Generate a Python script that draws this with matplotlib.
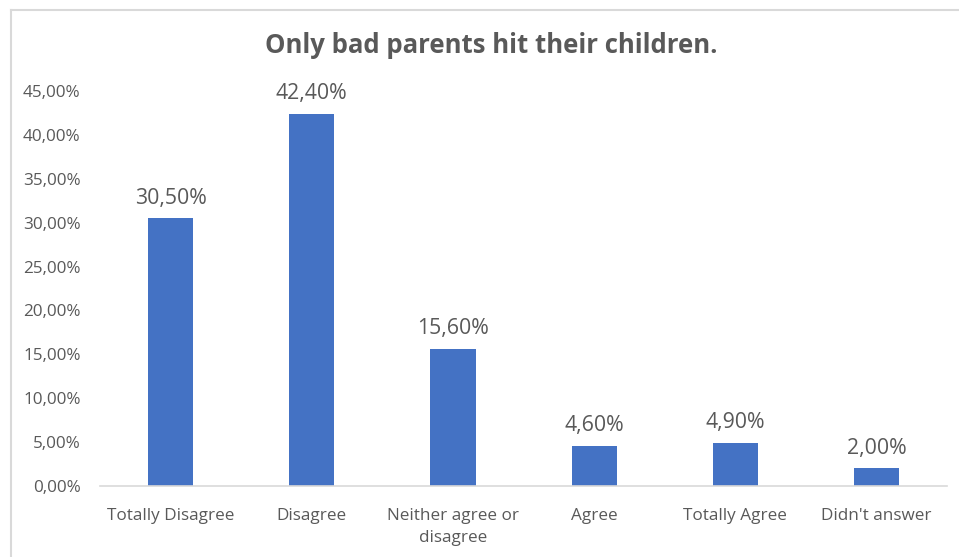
import matplotlib.pyplot as plt
from matplotlib.ticker import FuncFormatter

# values
categories = ['Totally Disagree', 'Disagree', 'Neither agree or\ndisagree',
              'Agree', 'Totally Agree', "Didn't answer"]
percents = [30.5, 42.4, 15.6, 4.6, 4.9, 2.0]
yticks = [0, 5, 10, 15, 20, 25, 30, 35, 40, 45]

text_col = '#595959'
bar_col = '#4472C4'

plt.rcParams['font.family'] = ['Open Sans', 'DejaVu Sans']

fig = plt.figure(figsize=(9.59, 5.57), dpi=100)
ax = fig.add_axes([0.1043, 0.1275, 0.8832, 0.7091])

x = range(len(categories))
ax.bar(x, percents, width=0.32, color=bar_col)

# data labels
for xi, v in zip(x, percents):
    ax.annotate(f'{v:.2f}%'.replace('.', ','), (xi, v), xytext=(0, 7),
                textcoords='offset points', ha='center', va='bottom',
                fontsize=15.3, color=text_col)

ax.set_xlim(-0.5, len(categories) - 0.5)
ax.set_ylim(0, 45)
ax.set_yticks(yticks)
ax.yaxis.set_major_formatter(FuncFormatter(lambda v, p: f'{v:.2f}%'.replace('.', ',')))
ax.set_xticks(list(x))
ax.set_xticklabels(categories, linespacing=1.45)

for s in ['top', 'right', 'left']:
    ax.spines[s].set_visible(False)
ax.spines['bottom'].set_color('#D9D9D9')
ax.spines['bottom'].set_linewidth(1.2)
ax.tick_params(axis='both', length=0, labelsize=12.3, colors=text_col)
ax.tick_params(axis='x', pad=16)
ax.tick_params(axis='y', pad=14)

fig.text(0.512, 0.918, 'Only bad parents hit their children.', ha='center', va='center',
         fontsize=18.5, fontweight='bold', color=text_col)

# chart frame (left and top edges visible in the crop)
fig.add_artist(plt.Line2D([0.011, 0.011], [0.0, 0.982], color='#D9D9D9', lw=1.5,
                          transform=fig.transFigure))
fig.add_artist(plt.Line2D([0.011, 1.0], [0.982, 0.982], color='#D9D9D9', lw=1.5,
                          transform=fig.transFigure))

fig.savefig('out.png', dpi=100)
